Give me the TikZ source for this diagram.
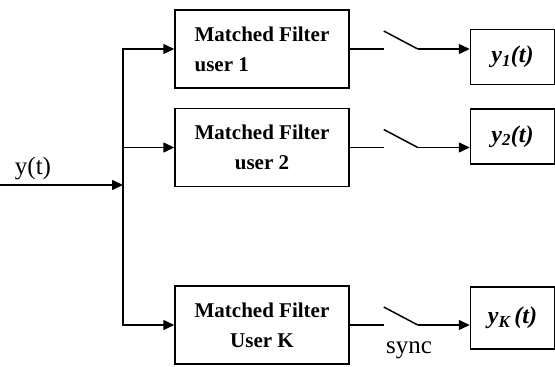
\documentclass[tikz,border=0pt]{standalone}
\usepackage{fontspec}
\setmainfont{Liberation Serif}
\usepackage{tikz}
\usetikzlibrary{positioning, arrows.meta}

\begin{document}
\begin{tikzpicture}[
      x=1pt, y=-1pt,
      line width=1.5pt,
      box/.style={draw, line width=1.5pt, inner sep=0pt},
      filter/.style={box, minimum width=174pt, minimum height=78pt,
        font=\fontsize{21}{30}\selectfont\bfseries},
      outbox/.style={box, minimum width=84pt, minimum height=55pt,
        font=\fontsize{24}{26}\selectfont\bfseries\itshape},
      plain/.style={font=\fontsize{25}{28}\selectfont},
      arr/.style={-{Triangle[length=11pt, width=10pt]}}
    ]
    \useasboundingbox (0,0) rectangle (555,367);

    \node[filter, align=left] (f1) at (262,49) {Matched Filter\\user 1};
    \node[filter, align=center, below=19pt of f1] (f2) {Matched Filter\\user 2};
    \node[filter, align=center, below=98pt of f2] (fK) {Matched Filter\\User K};

    \node[outbox, right=120pt of f1, yshift=-8pt] (o1) {y\textsubscript{1}(t)};
    \node[outbox, right=120pt of f2, yshift=11pt] (o2) {y\textsubscript{2}(t)};
    \node[outbox, right=120pt of fK, yshift=7pt, minimum height=62pt] (oK) {y\textsubscript{K}\,(t)};

    % input and bus
    \coordinate (in) at (0,185);
    \coordinate (bus) at (123,185);
    \node[plain] (ylab) at (33,169) {y(t)};
    \draw[arr] (in) -- (bus);
    \draw[arr] (bus) |- (f1.west);
    \draw[arr] (bus) |- (f2.west);
    \draw[arr] (bus) |- (fK.west);

    % switches
    \foreach \f/\o in {f1/o1, f2/o2, fK/oK} {
      \coordinate[right=34pt of \f.east] (\f a);
      \coordinate[right=68pt of \f.east] (\f b);
      \coordinate[above=18pt of \f a] (\f c);
      \draw (\f.east) -- (\f a);
      \draw (\f c) -- (\f b);
      \draw[arr] (\f b) -- (\f b -| \o.west);
    }

    \node[plain] (sync) at (409,350) {sync};
  \end{tikzpicture}
\end{document}
